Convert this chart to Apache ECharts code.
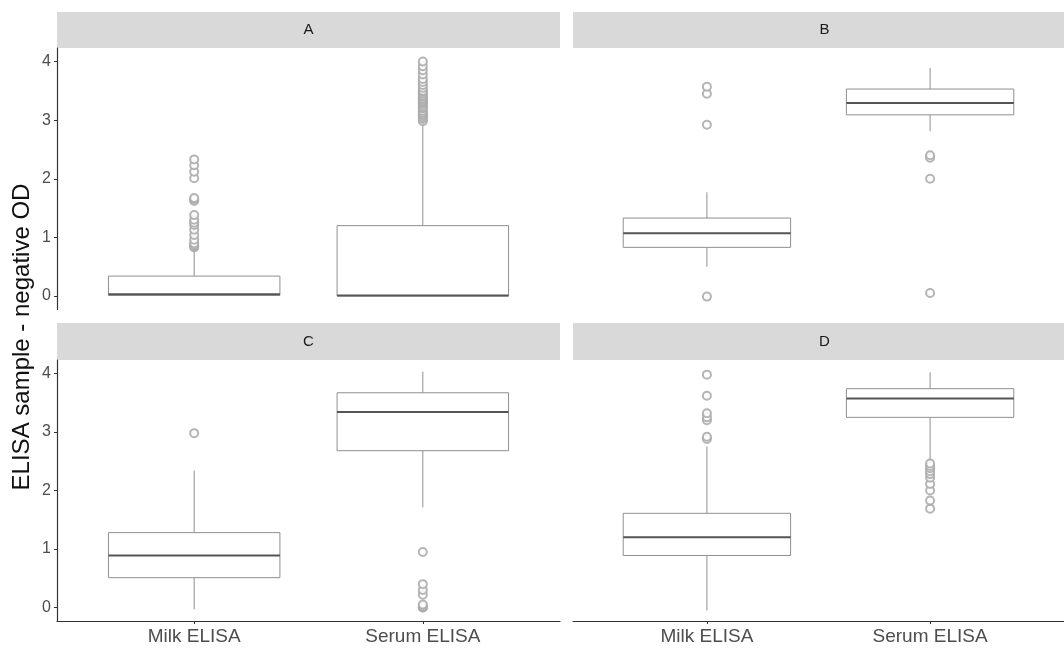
<!DOCTYPE html>
<html>
<head>
<meta charset="utf-8">
<script src="https://cdn.jsdelivr.net/npm/echarts@6/dist/echarts.min.js"></script>
<style>
html,body{margin:0;padding:0;background:#fff;}
#chart{width:1064px;height:651px;}
</style>
</head>
<body>
<div id="chart"></div>
<script>
// ---- data ----
const categories = ['Milk ELISA', 'Serum ELISA'];
const panels = ['A', 'B', 'C', 'D'];
const yTicks = [0, 1, 2, 3, 4];
const yTitle = 'ELISA sample - negative OD';

// box stats: [min, q1, median, q3, max] for Milk ELISA, Serum ELISA
const boxA = [[0.00, 0.01, 0.03, 0.34, 0.78], [0.00, 0.00, 0.01, 1.20, 2.95]];
const boxB = [[0.50, 0.83, 1.07, 1.33, 1.77], [2.81, 3.09, 3.29, 3.53, 3.89]];
const boxC = [[-0.03, 0.51, 0.89, 1.28, 2.34], [1.71, 2.68, 3.34, 3.67, 4.03]];
const boxD = [[-0.05, 0.89, 1.20, 1.61, 2.75], [2.52, 3.25, 3.57, 3.74, 4.02]];

// outliers
const outA_milk = [0.83, 0.85, 0.87, 0.90, 0.96, 1.04, 1.13, 1.21, 1.25, 1.30, 1.38, 1.62, 1.65, 1.67, 2.01, 2.12, 2.23, 2.33];
const outA_serum = [2.98, 3.02, 3.05, 3.08, 3.10, 3.13, 3.16, 3.20, 3.22, 3.25, 3.28, 3.30, 3.32, 3.35, 3.37, 3.40, 3.42, 3.45, 3.48, 3.50, 3.55, 3.60, 3.65, 3.70, 3.78, 3.85, 3.92, 4.00];
const outB_milk = [-0.01, 2.92, 3.45, 3.57];
const outB_serum = [0.05, 2.00, 2.36, 2.40];
const outC_milk = [2.98];
const outC_serum = [0.00, 0.00, 0.02, 0.05, 0.22, 0.30, 0.40, 0.95];
const outD_milk = [2.88, 2.92, 3.20, 3.25, 3.32, 3.62, 3.98];
const outD_serum = [1.69, 1.83, 2.00, 2.11, 2.22, 2.28, 2.33, 2.38, 2.42, 2.46];

const boxes = [boxA, boxB, boxC, boxD];
const outliers = [[outA_milk, outA_serum], [outB_milk, outB_serum], [outC_milk, outC_serum], [outD_milk, outD_serum]];

// ---- layout ----
const FONT = 'Liberation Sans, Arial, Helvetica, sans-serif';
const grids = [
  {left: 57, top: 48, width: 503, height: 261.5},
  {left: 573, top: 48, width: 503, height: 261.5},
  {left: 57, top: 360, width: 503, height: 261},
  {left: 573, top: 360, width: 503, height: 261}
];
const strips = [
  {x: 57, y: 12, w: 503, h: 36},
  {x: 573, y: 12, w: 503, h: 36},
  {x: 57, y: 323, w: 503, h: 37},
  {x: 573, y: 323, w: 503, h: 37}
];

const xAxes = grids.map((g, i) => {
  const bottom = i >= 2;
  return {
    type: 'value', gridIndex: i, min: 0.4, max: 2.6,
    splitLine: {show: false},
    axisLine: {show: bottom, onZero: false, lineStyle: {color: '#333', width: 1.2}},
    axisTick: {show: bottom, length: 3, customValues: [1, 2], lineStyle: {color: '#333'}},
    axisLabel: {show: bottom, customValues: [1, 2], formatter: v => categories[Math.round(v) - 1] || '',
      color: '#4d4d4d', fontSize: 19, fontFamily: FONT, margin: 6}
  };
});
const yAxes = grids.map((g, i) => {
  const left = (i % 2) === 0;
  return {
    type: 'value', gridIndex: i, min: -0.23, max: 4.23,
    splitLine: {show: false},
    axisLine: {show: left, onZero: false, lineStyle: {color: '#333', width: 1.2}},
    axisTick: {show: left, length: 3, customValues: yTicks, lineStyle: {color: '#333'}},
    axisLabel: {show: left, customValues: yTicks, color: '#4d4d4d', fontSize: 16, fontFamily: FONT, margin: 6}
  };
});

const series = [];
boxes.forEach((b, i) => {
  series.push({
    type: 'custom', xAxisIndex: i, yAxisIndex: i,
    data: b.map((s, k) => [k + 1].concat(s)),
    renderItem: function (params, api) {
      const x = api.value(0);
      const pMin = api.coord([x, api.value(1)]);
      const pQ1 = api.coord([x, api.value(2)]);
      const pMed = api.coord([x, api.value(3)]);
      const pQ3 = api.coord([x, api.value(4)]);
      const pMax = api.coord([x, api.value(5)]);
      const l = api.coord([x - 0.375, api.value(2)])[0];
      const r = api.coord([x + 0.375, api.value(2)])[0];
      const stroke = {stroke: '#8f8f8f', lineWidth: 1, fill: null};
      return {
        type: 'group',
        children: [
          {type: 'line', shape: {x1: pQ3[0], y1: pQ3[1], x2: pMax[0], y2: pMax[1]}, style: stroke},
          {type: 'line', shape: {x1: pMin[0], y1: pMin[1], x2: pQ1[0], y2: pQ1[1]}, style: stroke},
          {type: 'rect', shape: {x: l, y: pQ3[1], width: r - l, height: pQ1[1] - pQ3[1]}, style: {stroke: '#8f8f8f', lineWidth: 1, fill: '#fff'}},
          {type: 'line', shape: {x1: l, y1: pMed[1], x2: r, y2: pMed[1]}, style: {stroke: '#555', lineWidth: 2}}
        ]
      };
    }
  });
  series.push({
    type: 'scatter', xAxisIndex: i, yAxisIndex: i,
    symbol: 'emptyCircle', symbolSize: 8,
    itemStyle: {color: '#a8a8a8', borderColor: '#a8a8a8', borderWidth: 0.9, opacity: 0.85},
    data: outliers[i][0].map(v => [1, v]).concat(outliers[i][1].map(v => [2, v])),
    z: 3
  });
});

const graphics = [];
strips.forEach((s, i) => {
  graphics.push({type: 'rect', shape: {x: s.x, y: s.y, width: s.w, height: s.h}, style: {fill: '#d9d9d9'}, z: 0});
  graphics.push({type: 'text', x: s.x + s.w / 2, y: s.y + s.h / 2,
    style: {text: panels[i], fill: '#1a1a1a', font: '15px ' + FONT, textAlign: 'center', textVerticalAlign: 'middle'}, z: 1});
});
graphics.push({type: 'text', x: 22, y: 337, rotation: Math.PI / 2,
  style: {text: yTitle, fill: '#111', font: '24px ' + FONT, textAlign: 'center', textVerticalAlign: 'middle'}});

const chart = echarts.init(document.getElementById('chart'), null, {renderer: 'canvas'});
chart.setOption({
  animation: false,
  backgroundColor: '#fff',
  grid: grids,
  xAxis: xAxes,
  yAxis: yAxes,
  series: series,
  graphic: graphics
});
</script>
</body>
</html>
